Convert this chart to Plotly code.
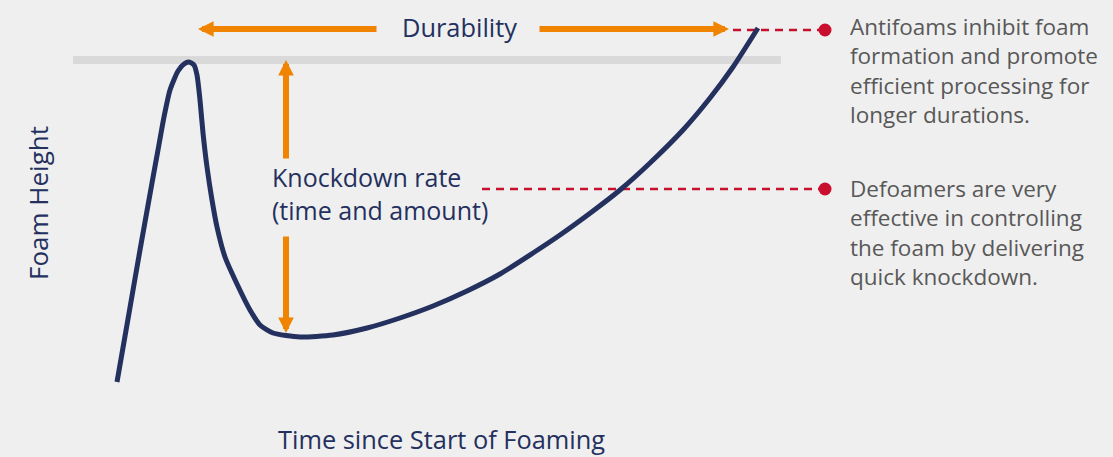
import plotly.graph_objects as go

W, H = 1113, 457

# Foam curve (time since start, foam height) (pixel-like units)
time_vals = [117, 128, 140, 152, 158, 164, 170, 178, 184, 189, 194, 197, 200, 203, 207,
             212, 217, 225, 237, 250, 260, 273, 300, 333, 367, 400, 433, 467, 500,
             533, 560, 593, 620, 650, 683, 710, 733, 758]
foam_px = [382, 319, 250, 183, 150, 117, 90, 71, 64, 62, 65, 75, 100, 133, 167,
           200, 227, 257, 284, 310, 325, 333, 337, 335, 328, 318, 306, 291, 274,
           253, 235, 211, 190, 163, 130, 98, 67, 28]
foam_height = [H - p for p in foam_px]

# reference level (max foam)
ref_x = [73, 781]
ref_height = [H - 60, H - 60]

# callout dots
callout_x = [825, 825]
callout_height = [H - 30, H - 189]
callout_line_start = [733, 482]

antifoam_lines = ["Antifoams inhibit foam", "formation and promote",
                  "efficient processing for", "longer durations."]
defoamer_lines = ["Defoamers are very", "effective in controlling",
                  "the foam by delivering", "quick knockdown."]
knockdown_lines = ["Knockdown rate", "(time and amount)"]

NAVY = "#24305e"
ORANGE = "#f08300"
RED = "#c8102e"
GRAY_TXT = "#585858"
FONT = "Open Sans"

fig = go.Figure()

fig.add_trace(go.Scatter(x=ref_x, y=ref_height, mode="lines",
                         line=dict(color="#d9d9d9", width=8), hoverinfo="skip"))

for sx, cx, cy in zip(callout_line_start, callout_x, callout_height):
    fig.add_trace(go.Scatter(x=[sx, cx], y=[cy, cy], mode="lines",
                             line=dict(color=RED, width=2.5, dash="8px,6px"),
                             hoverinfo="skip"))

fig.add_trace(go.Scatter(x=time_vals, y=foam_height, mode="lines",
                         line=dict(color=NAVY, width=5, shape="spline", smoothing=0.6),
                         hoverinfo="skip"))

fig.add_trace(go.Scatter(x=callout_x, y=callout_height, mode="markers",
                         marker=dict(color=RED, size=13), hoverinfo="skip"))

anns = []

def arrow(x_tip, y_tip, x_tail, y_tail):
    anns.append(dict(x=x_tip, y=H - y_tip, ax=x_tail, ay=H - y_tail,
                     xref="x", yref="y", axref="x", ayref="y", text="",
                     showarrow=True, arrowhead=2, arrowwidth=6, arrowsize=0.52,
                     arrowcolor=ORANGE, standoff=0, startstandoff=0))

arrow(198, 29, 378, 29)
arrow(729, 29, 538, 29)
arrow(286, 60, 286, 160)
arrow(286, 333, 286, 235)

def text(x, y, s, size, color, xanchor="left", angle=0):
    anns.append(dict(x=x, y=H - y, xref="x", yref="y", text=s, showarrow=False,
                     xanchor=xanchor, yanchor="middle", textangle=angle, align="left",
                     borderpad=0,
                     font=dict(family=FONT, size=size, color=color)))

text(459, 27, "Durability", 25.4, NAVY, "center")
text(271, 193, "<br>".join(knockdown_lines), 25, NAVY)
text(38, 203, "Foam Height", 26, NAVY, "center", -90)
text(441, 439, "Time since Start of Foaming", 25.4, NAVY, "center")
text(849, 70, "<br>".join(antifoam_lines), 22.5, GRAY_TXT)
text(849, 232, "<br>".join(defoamer_lines), 22.5, GRAY_TXT)

fig.update_layout(
    width=W, height=H, margin=dict(l=0, r=0, t=0, b=0),
    paper_bgcolor="#efefef", plot_bgcolor="#efefef",
    showlegend=False, annotations=anns,
    xaxis=dict(range=[0, W], visible=False, fixedrange=True),
    yaxis=dict(range=[0, H], visible=False, fixedrange=True),
)

fig.write_html("out.html", config={"displayModeBar": False})
